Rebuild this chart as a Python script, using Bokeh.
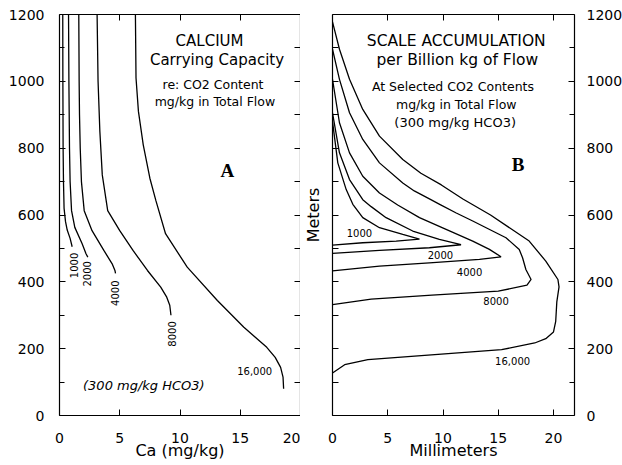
import math
from bokeh.plotting import figure
from bokeh.layouts import row
from bokeh.models import Range1d, LinearAxis, FixedTicker, Label
from bokeh.embed import file_html
from bokeh.resources import INLINE

# ---------------- Panel A: calcium carrying capacity ----------------
# Ca (mg/kg) vs depth (m), one curve per CO2 content (mg/kg in total flow)
a_1000_ca = [0.27, 0.28, 0.30, 0.33, 0.38, 0.50, 0.64, 0.88, 1.05]
a_1000_m = [1200, 1000, 800, 700, 620, 580, 555, 530, 505]
a_2000_ca = [0.75, 0.78, 0.83, 0.88, 1.00, 1.27, 1.88, 2.20, 2.35]
a_2000_m = [1200, 1000, 800, 700, 613, 563, 514, 484, 474]
a_4000_ca = [1.60, 1.63, 1.66, 1.72, 1.82, 2.05, 2.70, 3.68, 4.37, 4.60, 4.65]
a_4000_m = [1200, 1000, 900, 800, 700, 613, 553, 494, 454, 434, 425]
a_8000_ca = [3.12, 3.20, 3.35, 3.55, 4.00, 5.00, 6.10, 7.30, 8.40, 8.90, 9.15, 9.25]
a_8000_m = [1200, 1000, 850, 720, 613, 553, 494, 434, 384, 354, 330, 300]
a_16000_ca = [6.30, 6.35, 6.55, 6.95, 7.50, 8.00, 8.80, 10.6, 13.1, 15.3, 17.2, 17.9, 18.35, 18.55, 18.6]
a_16000_m = [1200, 1010, 910, 810, 710, 643, 544, 444, 344, 264, 204, 174, 144, 115, 80]

# ---------------- Panel B: scale accumulation ----------------
# Millimeters per billion kg of flow vs depth (m)
b_1000_mm = [0, 0.48, 1.24, 1.84, 2.74, 4.25, 6.36, 7.87, 5.76, 2.74, 0]
b_1000_m = [880, 756, 676, 632, 592, 562, 542, 528, 522, 517, 510]
b_2000_mm = [0, 0.63, 1.54, 2.74, 3.50, 4.85, 7.26, 9.67, 11.63, 8.77, 4.25, 0]
b_2000_m = [906, 786, 706, 646, 625, 592, 552, 527, 511, 502, 494, 485]
b_4000_mm = [0, 0.63, 1.54, 2.74, 4.25, 5.90, 7.87, 10.28, 12.69, 14.2, 15.25, 13.3, 8.77, 4.25, 0]
b_4000_m = [1006, 876, 786, 716, 666, 630, 592, 557, 522, 497, 475, 467, 457, 447, 433]
b_8000_mm = [0, 0.63, 1.54, 2.74, 4.25, 6.36, 7.40, 8.90, 9.70, 11.2, 12.69, 15.7, 16.9, 17.2,
             17.5, 17.97, 17.6, 15.0, 9.0, 3.5, 0]
b_8000_m = [1096, 1006, 906, 826, 756, 696, 672, 646, 632, 606, 582, 532, 497, 472,
            437, 407, 390, 372, 360, 348, 332]
b_16000_mm = [0, 0.63, 1.54, 2.74, 4.25, 6.36, 8.0, 9.85, 11.8, 14.3, 17.8, 19.3, 20.4, 20.5,
              20.3, 20.2, 20.0, 19.3, 18.3, 15.3, 9.25, 3.2, 1.1, 0]
b_16000_m = [1178, 1096, 1006, 916, 836, 766, 725, 690, 648, 600, 522, 462, 407, 385,
             340, 282, 250, 230, 217, 197, 182, 167, 152, 127]

y_ticks = [0, 200, 400, 600, 800, 1000, 1200]
y_minor = [100, 300, 500, 700, 900, 1100]
y_all = sorted(y_ticks + y_minor)
a_x_ticks = [0, 5, 10, 15, 20]
b_x_ticks = [0, 5, 10, 15, 20]

FONT = "DejaVu Sans"
LW = 1.3


def style_axis(ax, ticks, minor, size="14px", standoff=10):
    ax.ticker = FixedTicker(ticks=ticks, minor_ticks=minor)
    ax.axis_line_color = "black"
    ax.axis_line_width = 1.2
    ax.major_tick_in = 6
    ax.major_tick_out = 0
    ax.minor_tick_in = 6 if not ticks else 5
    ax.minor_tick_out = 0
    ax.major_tick_line_color = "black"
    ax.minor_tick_line_color = "black"
    ax.major_label_text_font = FONT
    ax.major_label_text_color = "black"
    ax.major_label_standoff = standoff
    ax.major_label_text_font_size = size
    ax.axis_label_text_font = FONT
    ax.axis_label_text_font_style = "normal"
    ax.axis_label_text_color = "black"
    ax.axis_label_text_font_size = "16px"


def make_fig(xmax, fw, bl, br):
    p = figure(frame_width=fw, frame_height=401,
               x_range=Range1d(0, xmax), y_range=Range1d(0, 1200),
               output_backend="svg", toolbar_location=None,
               x_axis_location=None, y_axis_location=None,
               min_border_left=bl, min_border_right=br,
               min_border_top=14, min_border_bottom=48)
    p.xgrid.visible = False
    p.ygrid.visible = False
    p.outline_line_color = None
    p.background_fill_color = "white"
    p.border_fill_color = "white"
    return p


def lab(p, t, x, y, size, **kw):
    p.add_layout(Label(x=x, y=y, text=t, text_font=kw.pop("font", FONT), text_font_size=size,
                       text_color="black", text_align="center", text_baseline="middle", **kw))


# ---------- Panel A ----------
pa = make_fig(20, 241, 59, 0)
ax_b = LinearAxis(axis_label="Ca (mg/kg)")
style_axis(ax_b, a_x_ticks, [], "14px", 17)
ax_b.axis_label_standoff = -5
pa.add_layout(ax_b, "below")
ax_t = LinearAxis()
style_axis(ax_t, [], a_x_ticks[1:-1])
pa.add_layout(ax_t, "above")
ax_l = LinearAxis()
style_axis(ax_l, y_ticks, y_minor, "14px", 15)
pa.add_layout(ax_l, "left")
ax_r = LinearAxis()
style_axis(ax_r, [], y_all)
pa.add_layout(ax_r, "right")

for xs, ys in [(a_1000_ca, a_1000_m), (a_2000_ca, a_2000_m), (a_4000_ca, a_4000_m),
               (a_8000_ca, a_8000_m), (a_16000_ca, a_16000_m)]:
    pa.line(xs, ys, line_color="black", line_width=LW)

a_labels = [("1000", 1.19, 449), ("2000", 2.3, 424), ("4000", 4.6, 366), ("8000", 9.3, 244)]
for t, x, y in a_labels:
    lab(pa, t, x, y, "10px", angle=math.pi / 2)
lab(pa, "16,000", 16.2, 133, "10px")

for t, x, y, sz in [("CALCIUM", 12.45, 1120, "15px"), ("Carrying Capacity", 13.07, 1064, "15px"),
                    ("re: CO2 Content", 12.74, 992, "12.5px"),
                    ("mg/kg in Total Flow", 12.9, 940, "12.5px")]:
    lab(pa, t, x, y, sz)
lab(pa, "A", 13.94, 733, "19px", font="Liberation Serif", text_font_style="bold")
lab(pa, "(300 mg/kg HCO3)", 7.0, 90, "13px", text_font_style="italic")

# ---------- Panel B ----------
pb = make_fig(21.9, 242, 31, 49)
bx_b = LinearAxis(axis_label="Millimeters")
style_axis(bx_b, b_x_ticks, [], "14px", 17)
bx_b.axis_label_standoff = -5
pb.add_layout(bx_b, "below")
bx_t = LinearAxis()
style_axis(bx_t, [], b_x_ticks[1:])
pb.add_layout(bx_t, "above")
bx_l = LinearAxis(axis_label="Meters")
style_axis(bx_l, [], y_all, "14px", 0)
bx_l.axis_label_standoff = 10
pb.add_layout(bx_l, "left")
bx_r = LinearAxis()
style_axis(bx_r, y_ticks, y_minor, "14px", 12)
pb.add_layout(bx_r, "right")

for xs, ys in [(b_1000_mm, b_1000_m), (b_2000_mm, b_2000_m), (b_4000_mm, b_4000_m),
               (b_8000_mm, b_8000_m), (b_16000_mm, b_16000_m)]:
    pb.line(xs, ys, line_color="black", line_width=LW)

b_labels = [("1000", 2.44, 546), ("2000", 9.77, 480), ("4000", 12.4, 430),
            ("8000", 14.8, 342), ("16,000", 16.3, 164)]
for t, x, y in b_labels:
    lab(pb, t, x, y, "10px")

for t, x, y, sz in [("SCALE ACCUMULATION", 11.2, 1122, "15.5px"),
                    ("per Billion kg of Flow", 11.3, 1064, "15.5px"),
                    ("At Selected CO2 Contents", 10.9, 984, "12.5px"),
                    ("mg/kg in Total Flow", 11.2, 932, "12.5px"),
                    ("(300 mg/kg HCO3)", 11.1, 877, "13px")]:
    lab(pb, t, x, y, sz)
lab(pb, "B", 16.8, 752, "19px", font="Liberation Serif", text_font_style="bold")

layout = row(pa, pb, spacing=0)
open("out.html", "w").write(file_html(layout, INLINE))
